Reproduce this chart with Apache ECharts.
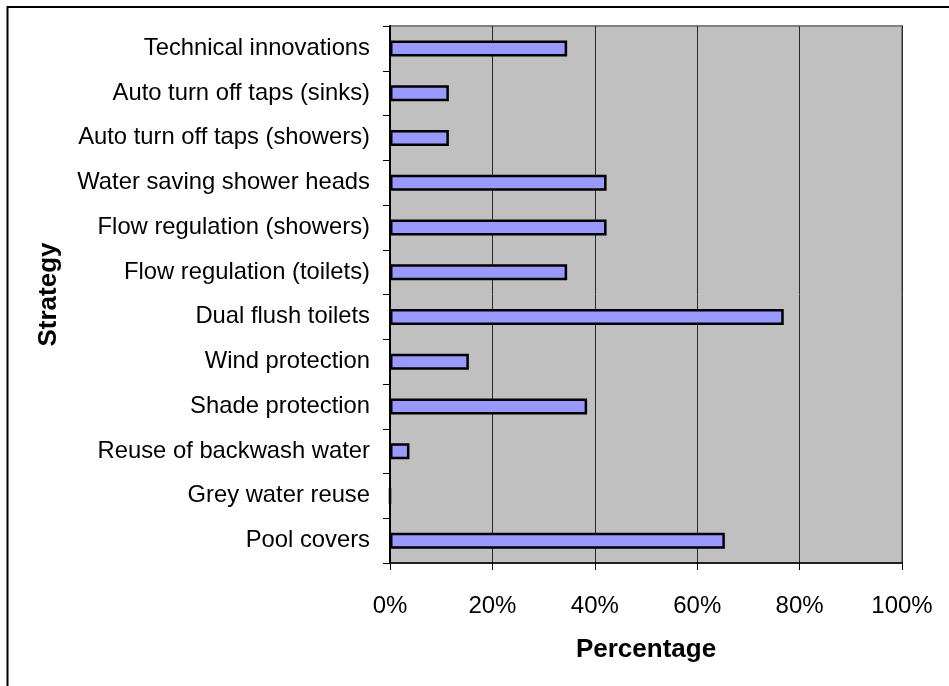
<!DOCTYPE html>
<html>
<head>
<meta charset="utf-8">
<script src="https://cdn.jsdelivr.net/npm/echarts@6/dist/echarts.min.js"></script>
<style>
  html, body { margin: 0; padding: 0; background: #ffffff; }
  #chart { width: 949px; height: 686px; }
</style>
</head>
<body>
<div id="chart"></div>
<script>
// Water saving strategies adopted, share of facilities (%)
const strategies = [
  'Technical innovations',
  'Auto turn off taps (sinks)',
  'Auto turn off taps (showers)',
  'Water saving shower heads',
  'Flow regulation (showers)',
  'Flow regulation (toilets)',
  'Dual flush toilets',
  'Wind protection',
  'Shade protection',
  'Reuse of backwash water',
  'Grey water reuse',
  'Pool covers'
];
const percentages = [34.6, 11.5, 11.5, 42.3, 42.3, 34.6, 76.9, 15.4, 38.5, 3.8, 0, 65.4];
const xTicks = { min: 0, max: 100, step: 20 };

const fontFamily = '"Liberation Sans", Arial, sans-serif';
const chart = echarts.init(document.getElementById('chart'));

chart.setOption({
  animation: false,
  backgroundColor: '#ffffff',
  graphic: [{
    type: 'rect',
    silent: true,
    shape: { x: 7.5, y: 7, width: 1200, height: 1200 },
    style: { fill: 'none', stroke: '#000000', lineWidth: 2 }
  }],
  grid: {
    left: 390, top: 26, width: 512, height: 537,
    show: true,
    backgroundColor: '#c0c0c0',
    borderColor: '#808080',
    borderWidth: 2
  },
  xAxis: {
    type: 'value',
    min: xTicks.min, max: xTicks.max, interval: xTicks.step,
    name: 'Percentage',
    nameLocation: 'middle',
    nameGap: 74,
    nameTextStyle: { fontFamily, fontSize: 26, fontWeight: 'bold', color: '#000' },
    axisLine: { show: true, lineStyle: { color: '#000', width: 1.5 } },
    axisTick: { show: true, length: 7, lineStyle: { color: '#000' } },
    axisLabel: {
      formatter: '{value}%', margin: 31,
      fontFamily, fontSize: 24, color: '#000'
    },
    splitLine: { show: true, lineStyle: { color: '#2a2a2a', width: 1 } }
  },
  yAxis: {
    type: 'category',
    data: strategies,
    inverse: true,
    name: 'Strategy',
    nameLocation: 'middle',
    nameGap: 328,
    nameTextStyle: { fontFamily, fontSize: 26, fontWeight: 'bold', color: '#000' },
    axisLine: { show: true, lineStyle: { color: '#000', width: 2 } },
    axisTick: { show: true, length: 7, alignWithLabel: false, lineStyle: { color: '#000' } },
    axisLabel: { margin: 20, fontFamily, fontSize: 23.8, color: '#000' },
    splitLine: { show: false }
  },
  series: [{
    type: 'bar',
    data: percentages,
    barWidth: 16,
    itemStyle: { color: '#9999ff', borderColor: '#000', borderWidth: 2.5 },
    emphasis: { disabled: true }
  }]
});
</script>
</body>
</html>
